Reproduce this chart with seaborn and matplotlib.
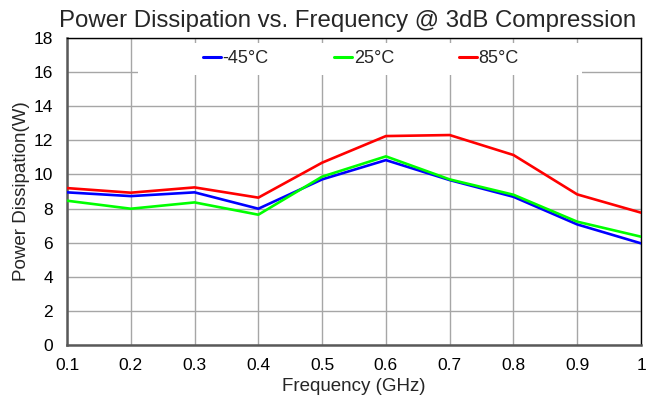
import matplotlib
matplotlib.use("Agg")
import matplotlib.pyplot as plt
import seaborn as sns
import pandas as pd
from matplotlib.patches import Rectangle
from matplotlib.lines import Line2D

freq = [0.1, 0.2, 0.3, 0.4, 0.5, 0.6, 0.7, 0.8, 0.9, 1.0]
m45 = [8.95, 8.73, 8.95, 7.99, 9.71, 10.84, 9.67, 8.69, 7.07, 5.96]
p25 = [8.46, 7.99, 8.36, 7.64, 9.87, 11.06, 9.71, 8.81, 7.23, 6.35]
p85 = [9.20, 8.93, 9.24, 8.64, 10.69, 12.25, 12.31, 11.14, 8.83, 7.76]
series_names = ["-45°C", "25°C", "85°C"]
colors = ["#0000FF", "#00FF00", "#FF0000"]
xtick_labels = ["0.1", "0.2", "0.3", "0.4", "0.5", "0.6", "0.7", "0.8", "0.9", "1"]
yticks = list(range(0, 19, 2))

sns.set_style("white")
plt.rcParams['font.family'] = ['Liberation Sans', 'DejaVu Sans']

rows = []
for name, vals in zip(series_names, [m45, p25, p85]):
    for f, v in zip(freq, vals):
        rows.append({"Frequency": f, "Power": v, "Temp": name})
df = pd.DataFrame(rows)

fig = plt.figure(figsize=(6.57, 4.0), dpi=100)
ax = fig.add_axes([67/657, 1 - 345/400, (641-67)/657, (345-38)/400])

sns.lineplot(data=df, x="Frequency", y="Power", hue="Temp",
             palette=dict(zip(series_names, colors)), linewidth=1.9,
             ax=ax, legend=False, zorder=3)

ax.set_xlim(0.1, 1.0)
ax.set_ylim(0, 18)
ax.set_xticks(freq)
ax.set_xticklabels(xtick_labels)
ax.set_yticks(yticks)
ax.set_axisbelow(True)
ax.grid(True, color="#a6a6a6", linewidth=1.0)
ax.tick_params(axis="both", length=0, labelsize=12.5, colors="black")
ax.tick_params(axis="y", pad=10)
ax.tick_params(axis="x", pad=9)

for s in ["left", "bottom"]:
    ax.spines[s].set_color("#595959")
    ax.spines[s].set_linewidth(1.8)
for s in ["top", "right"]:
    ax.spines[s].set_color("black")
    ax.spines[s].set_linewidth(1.0)
    ax.spines[s].set_visible(True)

ax.add_patch(Rectangle((71/574, (345-75)/307), 444/574, 32/307,
                       transform=ax.transAxes, facecolor="white",
                       edgecolor="none", zorder=1.5))

handles = [Line2D([0], [0], color=c, linewidth=2.2) for c in colors]
ax.legend(handles, series_names, loc="center", bbox_to_anchor=(0.512, 0.932),
          ncol=3, frameon=False, fontsize=13, handlelength=1.0,
          handletextpad=0.1, columnspacing=3.6)

ax.set_title("Power Dissipation vs. Frequency @ 3dB Compression",
             fontsize=17.3, pad=8, x=0.489)
ax.set_xlabel("Frequency (GHz)", fontsize=13.5, labelpad=4)
ax.set_ylabel("Power Dissipation(W)", fontsize=13.5)
ax.yaxis.set_label_coords(-0.0645, 0.5)

fig.savefig("out.png", dpi=100)
